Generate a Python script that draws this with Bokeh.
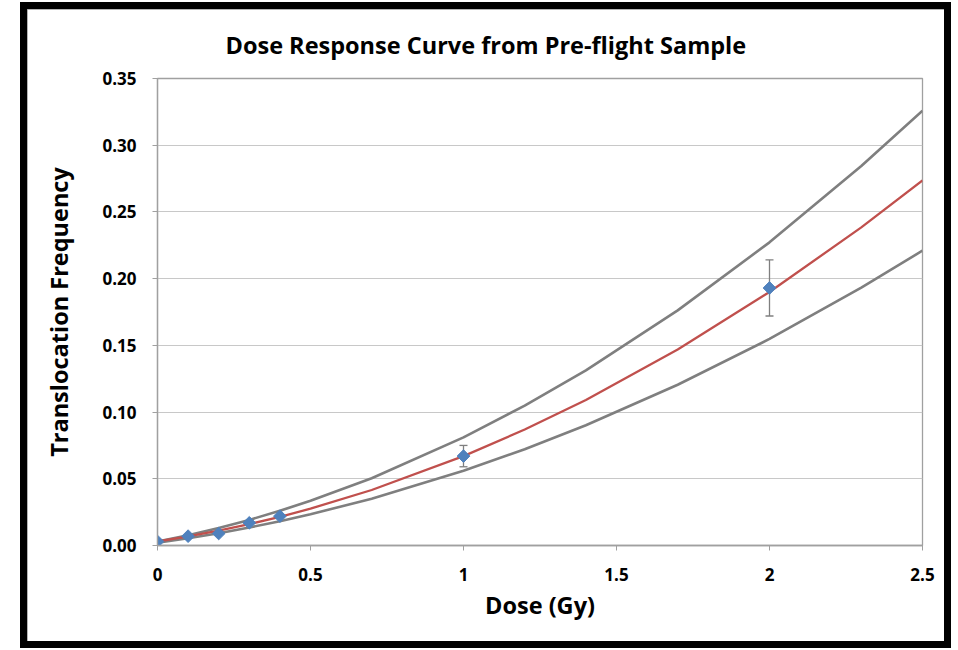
import math
from bokeh.plotting import figure
from bokeh.models import (Range1d, FixedTicker, ColumnDataSource, Whisker, TeeHead)
from bokeh.embed import file_html
from bokeh.resources import INLINE

# ---- data ----
title_text = "Dose Response Curve from Pre-flight Sample"
x_label = "Dose (Gy)"
y_label = "Translocation Frequency"

dose_pts = [0.0, 0.1, 0.2, 0.3, 0.4, 1.0, 2.0]
freq_pts = [0.003, 0.007, 0.009, 0.017, 0.022, 0.067, 0.193]
freq_err = [0.0, 0.0, 0.0, 0.0, 0.0, 0.008, 0.021]

curve_dose = [0.0, 0.1, 0.2, 0.3, 0.4, 0.5, 0.7, 1.0, 1.2, 1.4, 1.7, 2.0, 2.3, 2.5]
fit_mid = [0.003, 0.0068, 0.0111, 0.0160, 0.0215, 0.0276, 0.0416, 0.067, 0.0869,
           0.1091, 0.1469, 0.190, 0.2384, 0.2736]
fit_upper = [0.003, 0.0077, 0.0131, 0.0192, 0.0260, 0.0335, 0.0504, 0.081, 0.1048,
             0.1313, 0.1762, 0.2272, 0.2844, 0.3259]
fit_lower = [0.002, 0.0054, 0.0092, 0.0135, 0.0182, 0.0234, 0.0351, 0.056, 0.0722,
             0.0901, 0.1205, 0.1548, 0.1932, 0.221]

x_ticks = [0, 0.5, 1, 1.5, 2, 2.5]
x_tick_labels = ["0", "0.5", "1", "1.5", "2", "2.5"]
y_ticks = [0, 0.05, 0.10, 0.15, 0.20, 0.25, 0.30, 0.35]
y_tick_labels = ["0.00", "0.05", "0.10", "0.15", "0.20", "0.25", "0.30", "0.35"]

FONT = "Open Sans"
GRID = "#c8c8c8"
W, H = 931, 646
BL, BR, BT, BB = 130, 36, 69, 110

p = figure(width=W, height=H, output_backend="svg", toolbar_location=None,
           x_range=Range1d(0, 2.5), y_range=Range1d(0, 0.35),
           min_border_left=BL, min_border_right=BR, min_border_top=BT,
           min_border_bottom=BB)
p.styles = {"margin-left": "20px", "margin-top": "2px", "border": "7px solid black",
            "outline": "1px solid #9a9a9a", "outline-offset": "-8px"}

p.title.text = title_text
p.title.align = "left"
p.title.offset = 68
p.title.standoff = 35
p.title.text_font = FONT
p.title.text_font_size = "23.5px"
p.title.text_font_style = "bold"
p.title.text_color = "#000000"

p.outline_line_color = "#a0a0a0"
p.outline_line_width = 1.3
p.xgrid.visible = False
p.ygrid.grid_line_color = GRID
p.ygrid.grid_line_width = 1.2

p.xaxis.ticker = FixedTicker(ticks=x_ticks)
p.yaxis.ticker = FixedTicker(ticks=y_ticks)
p.xaxis.major_label_overrides = {t: l for t, l in zip(x_ticks, x_tick_labels)}
p.yaxis.major_label_overrides = {t: l for t, l in zip(y_ticks, y_tick_labels)}

for ax in (p.xaxis, p.yaxis):
    ax.axis_line_color = "#a0a0a0"
    ax.axis_line_width = 1.3
    ax.major_tick_line_color = "#a0a0a0"
    ax.major_tick_in = 0
    ax.major_tick_out = 5
    ax.minor_tick_line_color = None
    ax.major_label_text_font = FONT
    ax.major_label_text_font_size = "17px"
    ax.major_label_text_font_style = "bold"
    ax.major_label_text_color = "#000000"
    ax.axis_label_text_font = FONT
    ax.axis_label_text_font_size = "23.5px"
    ax.axis_label_text_font_style = "bold"
    ax.axis_label_text_color = "#000000"

p.xaxis.axis_label = x_label
p.yaxis.axis_label = y_label
p.xaxis.major_label_standoff = 17
p.yaxis.major_label_standoff = 16
p.xaxis.axis_label_standoff = 5
p.yaxis.axis_label_standoff = 24

p.line(curve_dose, fit_upper, line_color="#7f7f7f", line_width=2.6)
p.line(curve_dose, fit_lower, line_color="#7f7f7f", line_width=2.6)
p.line(curve_dose, fit_mid, line_color="#c0504d", line_width=2.3)

ex, elo, ehi = [], [], []
for d, f, e in zip(dose_pts, freq_pts, freq_err):
    if e > 0:
        ex.append(d)
        elo.append(f - e)
        ehi.append(f + e)
err_src = ColumnDataSource(data=dict(x=ex, lower=elo, upper=ehi))
p.add_layout(Whisker(source=err_src, base="x", lower="lower", upper="upper",
                     line_color="#7f7f7f", line_width=1.3,
                     upper_head=TeeHead(size=8, line_color="#7f7f7f", line_width=1.3),
                     lower_head=TeeHead(size=8, line_color="#7f7f7f", line_width=1.3)))

p.scatter(dose_pts, freq_pts, marker="square", size=9, angle=math.pi / 4,
          fill_color="#4f81bd", line_color="#4f81bd")

open("out.html", "w").write(file_html(p, INLINE))
